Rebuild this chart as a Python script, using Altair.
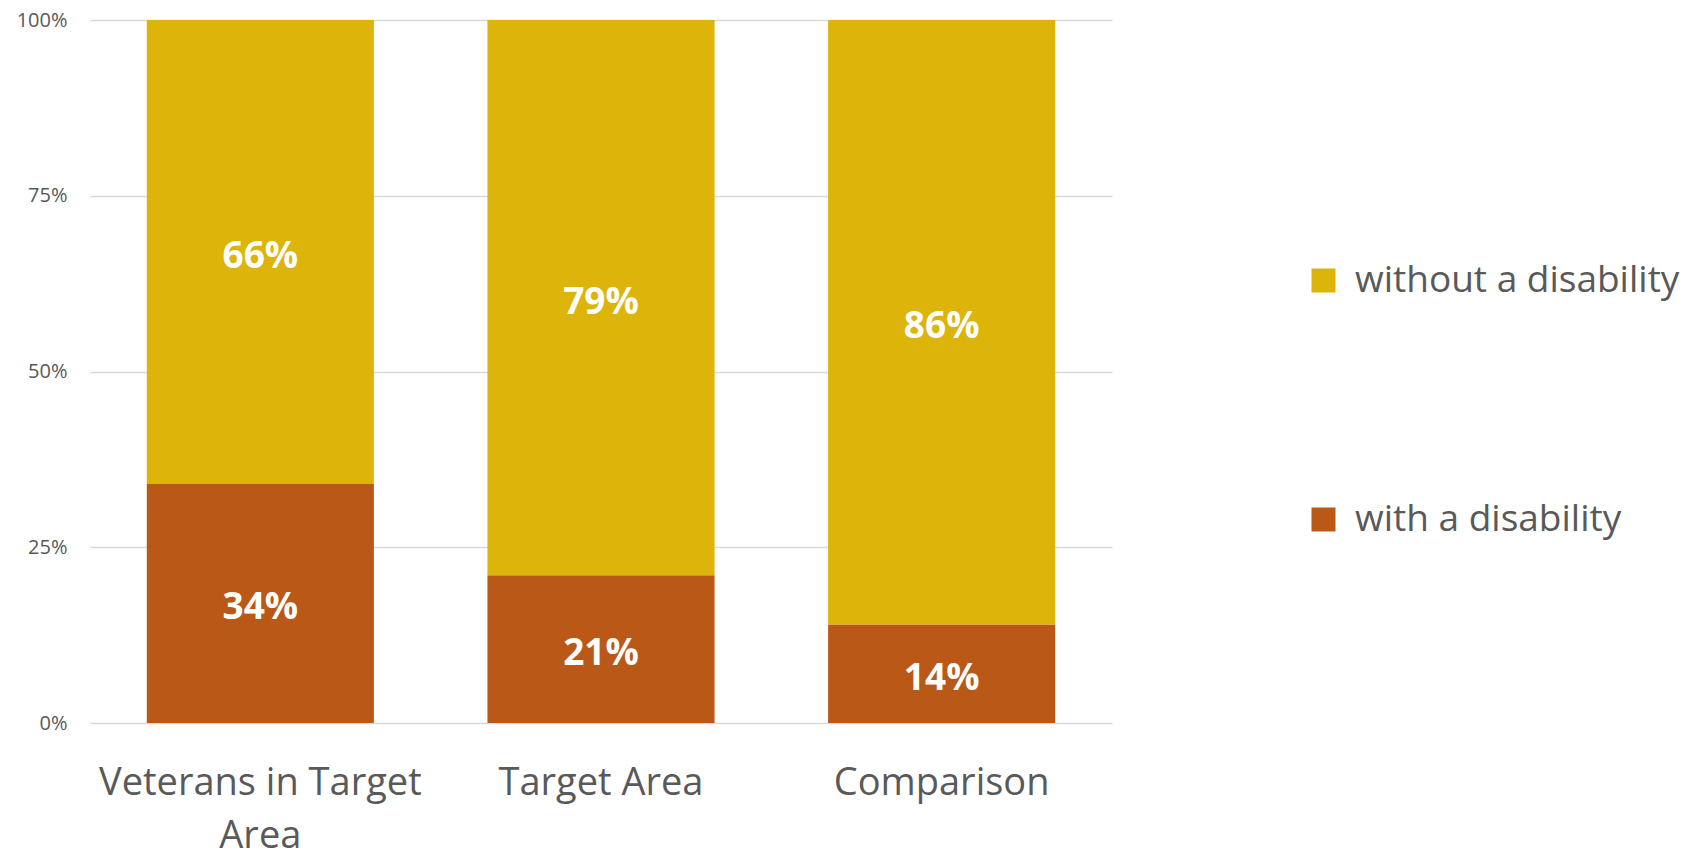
import altair as alt
import pandas as pd

categories = ["Veterans in Target Area", "Target Area", "Comparison"]
with_disability = [34, 21, 14]
without_disability = [66, 79, 86]
series = ["without a disability", "with a disability"]
colors = ["#DDB40A", "#BA5817"]

rows = []
for c, w, wo in zip(categories, with_disability, without_disability):
    rows.append({"cat": c, "group": "with a disability", "value": w / 100, "ord": 0})
    rows.append({"cat": c, "group": "without a disability", "value": wo / 100, "ord": 1})
df = pd.DataFrame(rows)

FONT = "Open Sans"
GREY = "#595959"

base = alt.Chart(df).encode(
    x=alt.X(
        "cat:N",
        sort=categories,
        title=None,
        scale=alt.Scale(paddingInner=0.3333, paddingOuter=0.1667),
        axis=alt.Axis(
            labelAngle=0,
            labelFontSize=38,
            labelColor=GREY,
            labelFont=FONT,
            labelLineHeight=53,
            labelPadding=41,
            ticks=False,
            domain=False,
            labelLimit=400,
            labelExpr="datum.label == 'Veterans in Target Area' ? ['Veterans in Target', 'Area'] : datum.label",
        ),
    ),
)

bars = base.mark_bar().encode(
    y=alt.Y(
        "value:Q",
        stack="zero",
        title=None,
        scale=alt.Scale(domain=[0, 1]),
        axis=alt.Axis(
            format=".0%",
            values=[0, 0.25, 0.5, 0.75, 1.0],
            labelFontSize=20,
            labelColor=GREY,
            labelFont=FONT,
            labelPadding=23,
            ticks=False,
            domain=False,
            gridColor="#D9D9D9",
            gridWidth=1.5,
        ),
    ),
    color=alt.Color(
        "group:N",
        scale=alt.Scale(domain=series, range=colors),
        legend=alt.Legend(
            title=None,
            orient="none",
            legendX=1215,
            legendY=242,
            symbolType="square",
            symbolSize=576,
            symbolStrokeWidth=0,
            symbolOpacity=1,
            labelFontSize=37,
            labelFont=FONT,
            labelColor=GREY,
            labelOffset=13,
            rowPadding=201,
            labelLimit=600,
        ),
    ),
    order=alt.Order("ord:Q", sort="ascending"),
)

labels = base.mark_text(
    color="white", fontSize=37, fontWeight="bold", font=FONT, baseline="middle", dy=5
).encode(
    y=alt.Y("value:Q", stack="zero", bandPosition=0.5),
    detail="group:N",
    order=alt.Order("ord:Q", sort="ascending"),
    text=alt.Text("value:Q", format=".0%"),
)

chart = (
    alt.layer(bars, labels)
    .properties(
        width=1022,
        height=703,
        autosize=alt.AutoSizeParams(type="none"),
        padding={"left": 82, "top": 12, "right": 588, "bottom": 126},
    )
    .configure_view(stroke=None)
)

chart.save("out.html", embed_options={"renderer": "svg", "actions": False})
